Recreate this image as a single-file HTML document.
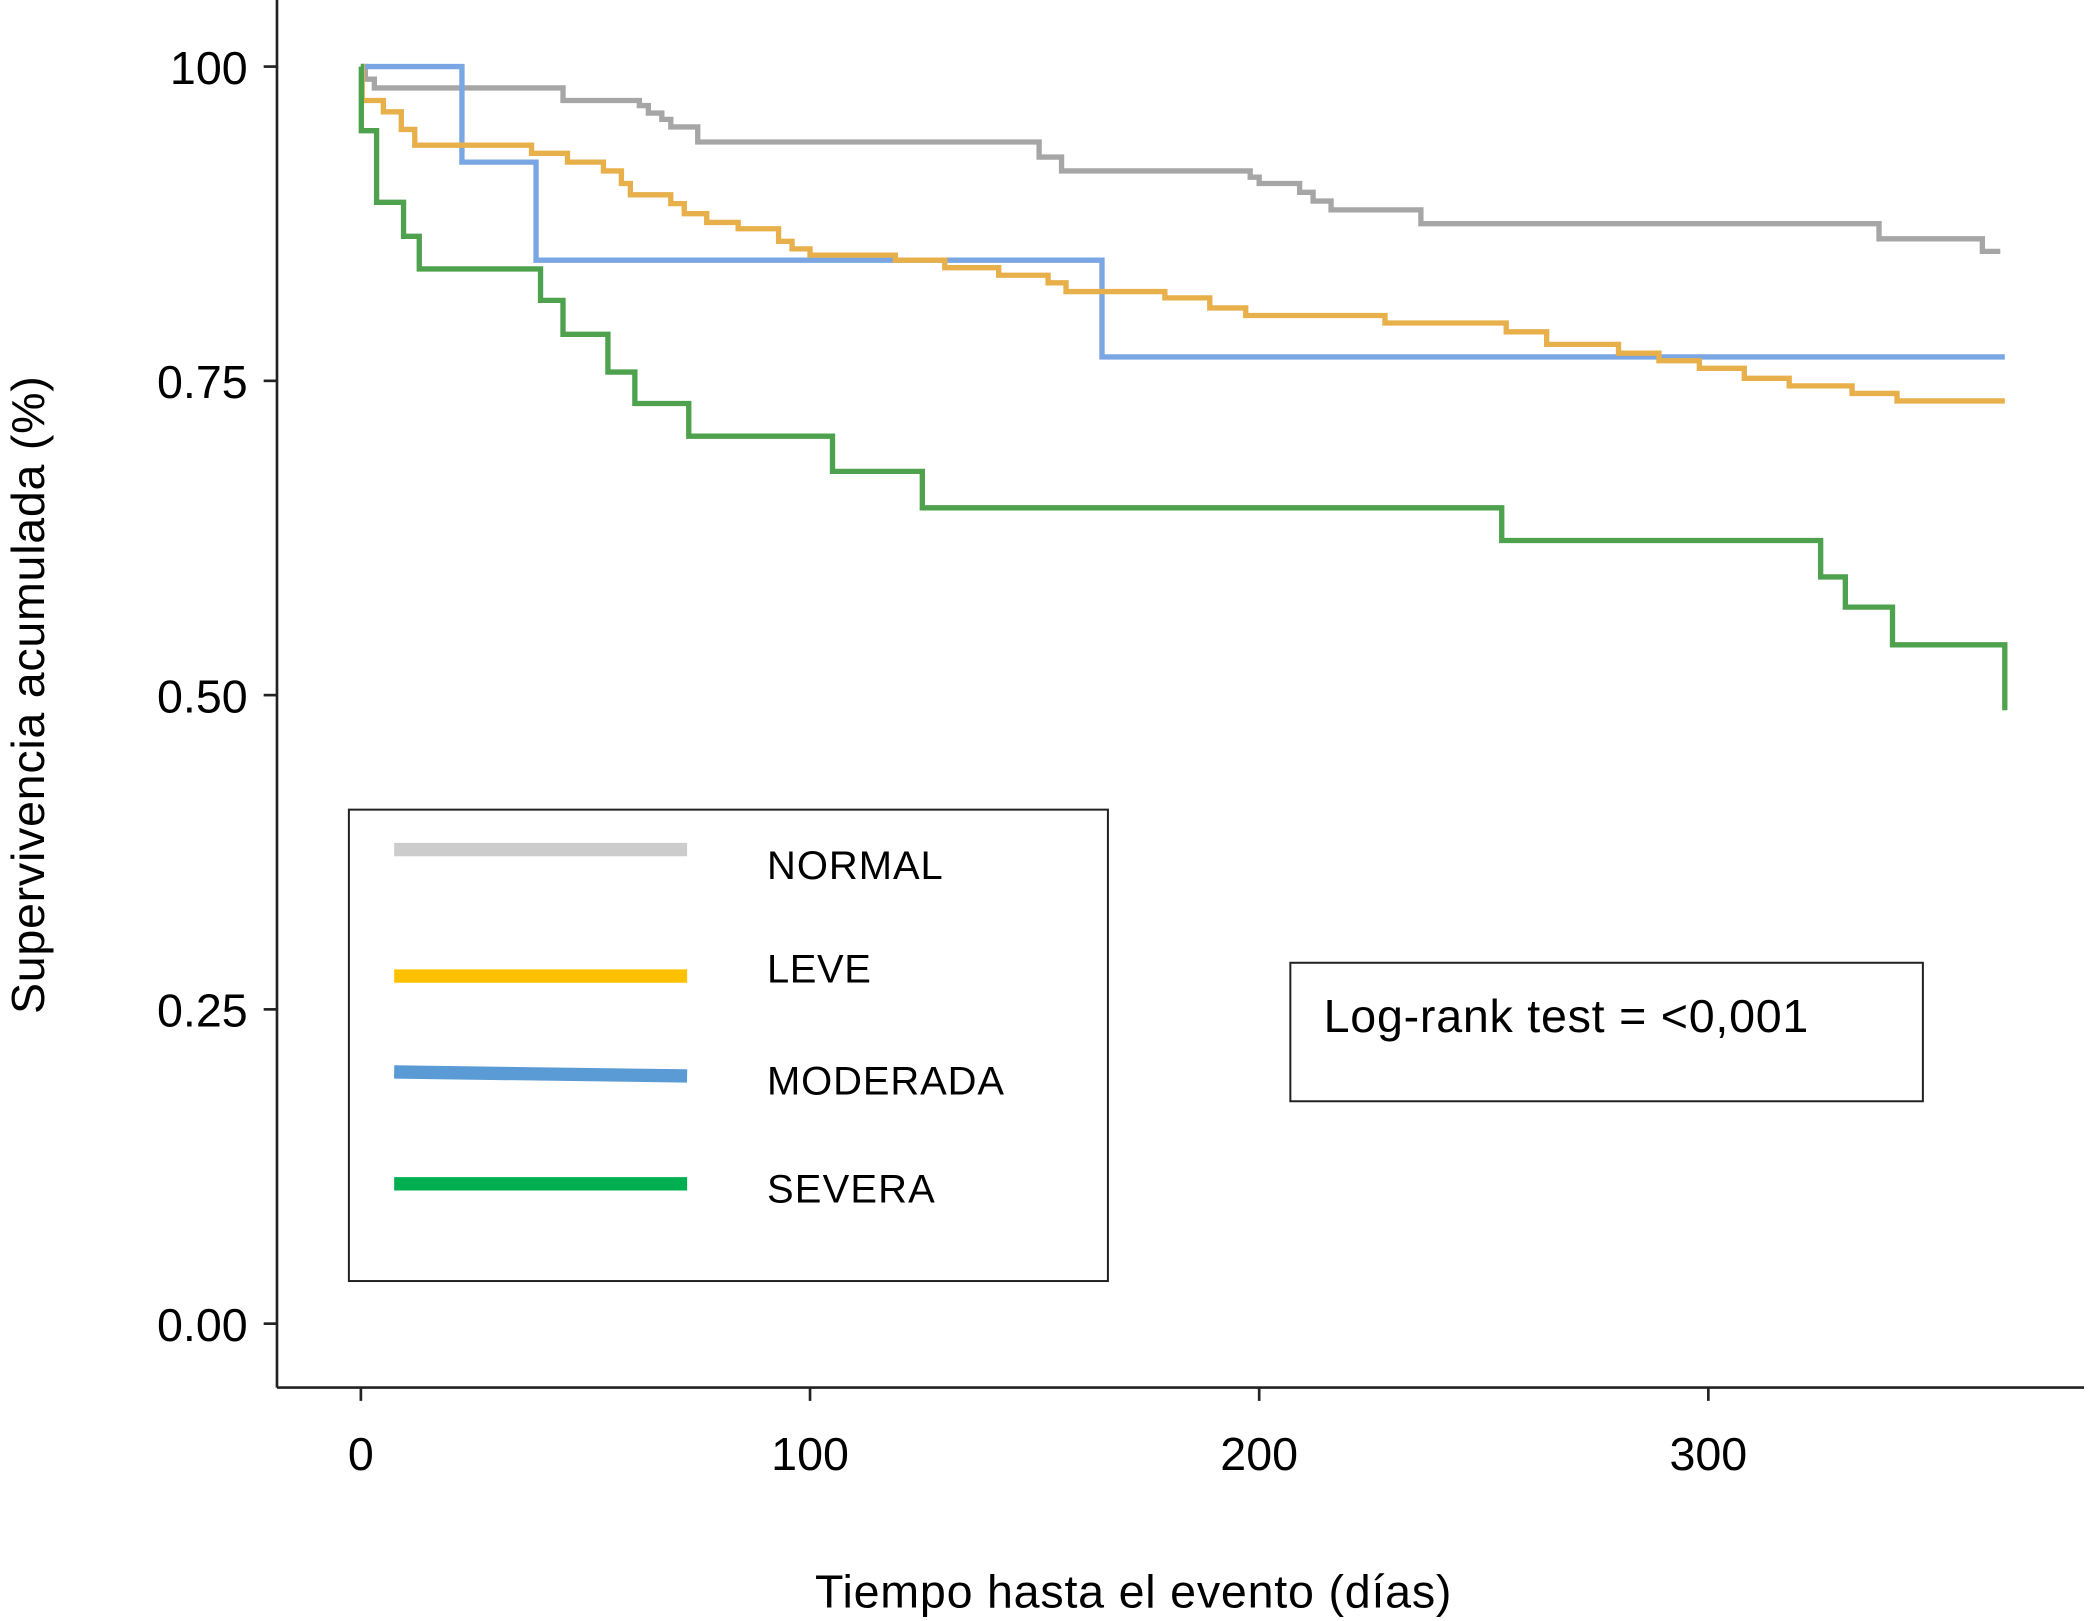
<!DOCTYPE html>
<html><head><meta charset="utf-8"><style>
html,body{margin:0;padding:0;background:#fff;}
svg{display:block;font-family:"Liberation Sans",Arial,sans-serif;}
</style></head><body>
<svg id="chart" width="2088" height="1621" viewBox="0 0 1568 1217.3" xmlns="http://www.w3.org/2000/svg">
<rect width="1568" height="1217.3" fill="#fff"/>
<g id="axes"></g>
<g id="series"></g>
<g>
<rect x="262" y="608" width="570" height="354" fill="#fff" stroke="#222" stroke-width="1.5"/>
<line x1="296" y1="638" x2="516" y2="638" stroke="#cccccc" stroke-width="10"/>
<text x="576" y="660" font-size="30" textLength="132">NORMAL</text>
<line x1="296" y1="733" x2="516" y2="733" stroke="#ffc000" stroke-width="10"/>
<text x="576" y="738" font-size="30" textLength="78">LEVE</text>
<line x1="296" y1="805" x2="516" y2="808" stroke="#5b9bd5" stroke-width="10"/>
<text x="576" y="822" font-size="30" textLength="178">MODERADA</text>
<line x1="296" y1="889" x2="516" y2="889" stroke="#00b050" stroke-width="10"/>
<text x="576" y="903" font-size="30" textLength="126">SEVERA</text>
</g>
<g>
<rect x="969" y="723" width="475" height="104" fill="#fff" stroke="#222" stroke-width="1.5"/>
<text x="994" y="775" font-size="35" textLength="364">Log-rank test = &lt;0,001</text>
</g>
<text x="851" y="1207" font-size="35" text-anchor="middle" textLength="478">Tiempo hasta el evento (días)</text>
<text transform="translate(33,522) rotate(-90)" font-size="35" text-anchor="middle" textLength="479">Supervivencia acumulada (%)</text>
</svg>
<script>
const xTicks = [0, 100, 200, 300];
const yTicks = [0, 0.25, 0.5, 0.75, 1];
const yTickLabels = ["0.00", "0.25", "0.50", "0.75", "100"];
const normalT = [0, 1, 3, 45, 62, 64, 67, 69, 75, 151, 156, 198, 200, 209, 212, 216, 236, 338, 361, 365];
const normalS = [1, 0.99, 0.983, 0.973, 0.969, 0.963, 0.958, 0.952, 0.94, 0.928, 0.917, 0.912, 0.907, 0.9, 0.893, 0.886, 0.875, 0.863, 0.853, 0.853];
const leveT = [0, 0.3, 5, 9, 12, 38, 46, 54, 58, 60, 69, 72, 77, 84, 93, 96, 100, 119, 130, 142, 153, 157, 179, 189, 197, 228, 255, 264, 280, 289, 298, 308, 318, 332, 342, 366];
const leveS = [1, 0.973, 0.964, 0.95, 0.9375, 0.931, 0.924, 0.917, 0.907, 0.898, 0.891, 0.883, 0.876, 0.871, 0.861, 0.855, 0.85, 0.846, 0.84, 0.834, 0.828, 0.821, 0.816, 0.808, 0.802, 0.796, 0.789, 0.779, 0.772, 0.766, 0.76, 0.752, 0.746, 0.74, 0.734, 0.734];
const modT = [0, 22.5, 39, 165, 366];
const modS = [1, 0.924, 0.846, 0.769, 0.769];
const sevT = [0, 0.1, 3.5, 9.5, 13, 40, 45, 55, 61, 73, 105, 125, 254, 325, 330.5, 341, 366, 366];
const sevS = [1, 0.949, 0.892, 0.865, 0.839, 0.814, 0.787, 0.757, 0.732, 0.706, 0.678, 0.649, 0.623, 0.594, 0.57, 0.54, 0.54, 0.488];

const NS = "http://www.w3.org/2000/svg";
function xs(t){ return 271 + t * 3.373; }
function ys(v){ return 994 - v * 944; }
function mk(tag, attrs, parent){
  const el = document.createElementNS(NS, tag);
  for (const k in attrs) el.setAttribute(k, attrs[k]);
  parent.appendChild(el);
  return el;
}
const axes = document.getElementById('axes');
let a = mk('line', {x1:208, y1:0, x2:208, y2:1042, stroke:'#222', 'stroke-width':2}, axes);


a = mk('line', {x1:208, y1:1042, x2:1565, y2:1042, stroke:'#222', 'stroke-width':2}, axes);


xTicks.forEach(t => {
  const tk = mk('line', {x1:xs(t), y1:1042, x2:xs(t), y2:1052, stroke:'#222', 'stroke-width':2}, axes);
  
  
  const lb = mk('text', {x:xs(t), y:1104, 'font-size':35, 'text-anchor':'middle'}, axes);
  lb.textContent = String(t);
  
  
});
yTicks.forEach((v, i) => {
  const tk = mk('line', {x1:198, y1:ys(v), x2:208, y2:ys(v), stroke:'#222', 'stroke-width':2}, axes);
  
  
  const lb = mk('text', {x:186, y:ys(v) + 13, 'font-size':35, 'text-anchor':'end'}, axes);
  lb.textContent = yTickLabels[i];
  
  
});
const series = document.getElementById('series');
function step(T, S, color, name){
  let d = 'M' + xs(T[0]) + ',' + ys(S[0]);
  for (let i = 1; i < T.length; i++){
    d += ' H' + xs(T[i]) + ' V' + ys(S[i]);
  }
  const p = mk('path', {d:d, fill:'none', stroke:color, 'stroke-width':4}, series);
  
  
}
step(normalT, normalS, '#a6a6a6', 'line-normal');
step(modT, modS, '#7aa6e3', 'line-moderada');
step(leveT, leveS, '#e8b04a', 'line-leve');
step(sevT, sevS, '#4ea24e', 'line-severa');
</script>
</body></html>
